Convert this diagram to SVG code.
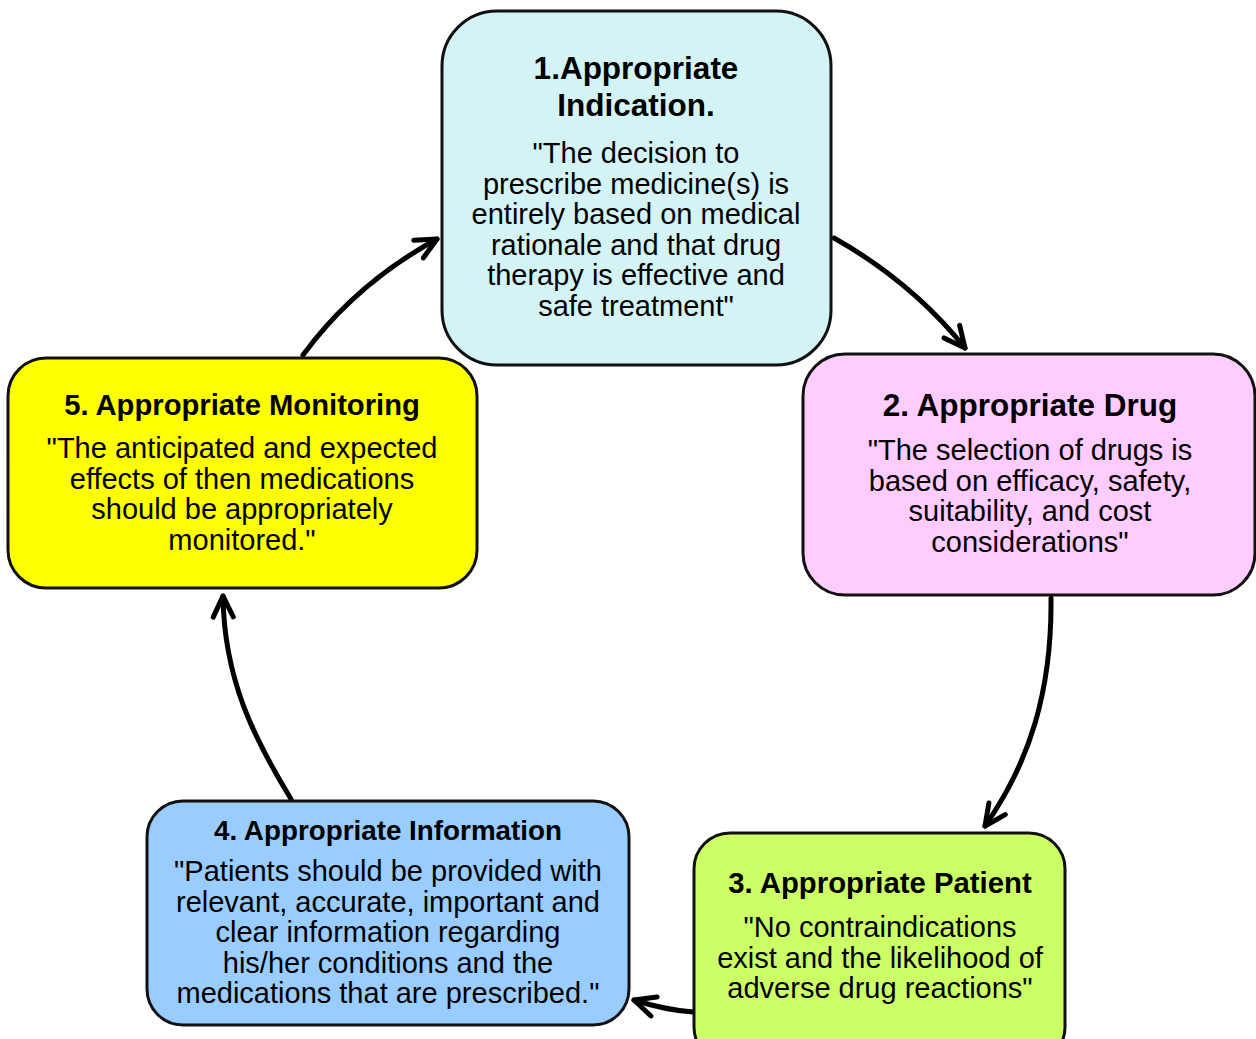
<svg xmlns="http://www.w3.org/2000/svg" width="1256" height="1039" viewBox="0 0 1256 1039">
<style>
.box{stroke:#111;stroke-width:3}
.t{font-family:"Liberation Sans",Arial,sans-serif;fill:#000;text-anchor:middle}
.h{font-weight:bold}
.b{font-size:29px}
.con{fill:none;stroke:#000;stroke-width:5;stroke-linecap:round}
</style>
<defs>
<marker id="ah" markerUnits="userSpaceOnUse" markerWidth="30" markerHeight="30" viewBox="-25 -15 30 30" refX="0" refY="0" orient="auto" overflow="visible">
<path d="M-21,-10 L0,0 L-21,10" fill="none" stroke="#000" stroke-width="5" stroke-linecap="round" stroke-linejoin="round"/>
</marker>
</defs>
<rect width="1256" height="1039" fill="#fff"/>
<g id="connectors">
<path class="con" d="M834,238 Q912,282 965,348" marker-end="url(#ah)"/>
<path class="con" d="M1051,598 C1052,690 1030,762 985,826" marker-end="url(#ah)"/>
<path class="con" d="M693,1012 Q665,1010 634,1000" marker-end="url(#ah)"/>
<path class="con" d="M291,799 C255,740 224,680 223,596" marker-end="url(#ah)"/>
<path class="con" d="M303,355 Q355,284 437,239" marker-end="url(#ah)"/>
</g>
<g id="node1">
<rect class="box" x="442" y="11" width="389" height="354" rx="55" fill="#d3f3f5"/>
<text class="t h" font-size="31.5" x="636" y="79">1.Appropriate</text>
<text class="t h" font-size="31.5" x="636" y="116">Indication.</text>
<text class="t b" x="636" y="163">"The decision to</text>
<text class="t b" x="636" y="193.5">prescribe medicine(s) is</text>
<text class="t b" x="636" y="224">entirely based on medical</text>
<text class="t b" x="636" y="254.5">rationale and that drug</text>
<text class="t b" x="636" y="285">therapy is effective and</text>
<text class="t b" x="636" y="315.5">safe treatment"</text>
</g>
<g id="node2">
<rect class="box" x="803" y="354" width="452" height="241" rx="42" fill="#ffccff"/>
<text class="t h" font-size="31.5" x="1030" y="416">2. Appropriate Drug</text>
<text class="t b" x="1030" y="460">"The selection of drugs is</text>
<text class="t b" x="1030" y="490.5">based on efficacy, safety,</text>
<text class="t b" x="1030" y="521">suitability, and cost</text>
<text class="t b" x="1030" y="551.5">considerations"</text>
</g>
<g id="node3">
<rect class="box" x="694" y="833" width="371" height="230" rx="36" fill="#ccff66"/>
<text class="t h" font-size="29.3" x="880" y="893">3. Appropriate Patient</text>
<text class="t b" x="880" y="937">"No contraindications</text>
<text class="t b" x="880" y="967.5">exist and the likelihood of</text>
<text class="t b" x="880" y="998">adverse drug reactions"</text>
</g>
<g id="node4">
<rect class="box" x="147" y="801" width="482" height="224" rx="36" fill="#99ccff"/>
<text class="t h" font-size="27.8" x="388" y="840">4. Appropriate Information</text>
<text class="t b" x="388" y="881">"Patients should be provided with</text>
<text class="t b" x="388" y="911.5">relevant, accurate, important and</text>
<text class="t b" x="388" y="942">clear information regarding</text>
<text class="t b" x="388" y="972.5">his/her conditions and the</text>
<text class="t b" x="388" y="1003">medications that are prescribed."</text>
</g>
<g id="node5">
<rect class="box" x="8" y="358" width="469" height="230" rx="38" fill="#ffff00"/>
<text class="t h" font-size="29.2" x="242" y="415">5. Appropriate Monitoring</text>
<text class="t b" x="242" y="458">"The anticipated and expected</text>
<text class="t b" x="242" y="488.5">effects of then medications</text>
<text class="t b" x="242" y="519">should be appropriately</text>
<text class="t b" x="242" y="549.5">monitored."</text>
</g>
</svg>
